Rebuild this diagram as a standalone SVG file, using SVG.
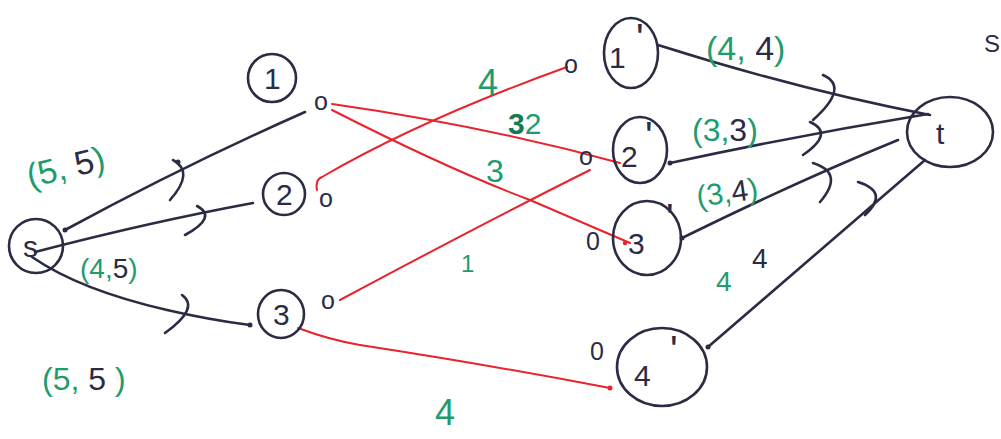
<svg xmlns="http://www.w3.org/2000/svg" width="1001" height="439" viewBox="0 0 1001 439">
<style>
.node{fill:none;stroke:#2b2c44;stroke-width:2.6}
.nl{font-family:"Liberation Sans",sans-serif;fill:#2b2c44;font-size:30px}
.pr{font-family:"Liberation Sans",sans-serif;fill:#2b2c44;font-size:40px}
.z{font-family:"Liberation Sans",sans-serif;fill:#2b2c44;font-size:25px}
.blk{fill:none;stroke:#2b2c44;stroke-width:2.6;stroke-linecap:round}
.red{fill:none;stroke:#e8232d;stroke-width:2;stroke-linecap:round}
.hook{fill:none;stroke:#2b2c44;stroke-width:2.6;stroke-linecap:round}
.g{font-family:"Liberation Sans",sans-serif;fill:#1f9c6c}
.k{fill:#2b2c44}
.dot{fill:#2b2c44}
</style>
<rect width="1001" height="439" fill="#ffffff"/>
<g id="connectors">
  <path class="blk" d="M65 230 Q185 165 305 112"/>
  <path class="blk" d="M35 252 Q150 222 253 203"/>
  <path class="blk" d="M32 257 Q80 290 167 310 Q210 320 250 325"/>
  <path class="hook" d="M173 160 Q195 172 170 200"/>
  <path class="hook" d="M197 206 Q218 217 185 235"/>
  <path class="hook" d="M182 295 Q200 308 165 333"/>
  <circle class="dot" cx="65" cy="230" r="2.5"/>
  <circle class="dot" cx="178" cy="162" r="2.5"/>
  <circle class="dot" cx="250" cy="325" r="2.5"/>
  <path class="red" d="M332 104 Q480 125 620 163"/>
  <path class="red" d="M332 110 Q450 170 530 200 Q600 230 630 243"/>
  <path class="red" d="M317 190 Q315 180 322 177 Q420 120 567 67"/>
  <path class="red" d="M340 300 Q480 225 590 170"/>
  <path class="red" d="M298 328 Q330 340 360 345 Q490 365 610 388"/>
  <circle cx="610" cy="388" r="2.5" fill="#e8232d"/>
  <circle cx="625" cy="243" r="2.2" fill="#e8232d"/>
  <path class="blk" d="M658 45 Q800 90 930 115"/>
  <path class="blk" d="M670 163 Q800 135 928 114"/>
  <path class="blk" d="M682 238 Q800 180 898 140"/>
  <path class="blk" d="M708 347 Q820 250 925 160"/>
  <path class="hook" d="M823 75 Q850 87 813 120"/>
  <path class="hook" d="M810 122 Q835 133 803 155"/>
  <path class="hook" d="M813 163 Q845 173 820 202"/>
  <path class="hook" d="M858 182 Q890 192 865 215"/>
  <circle class="dot" cx="670" cy="163" r="2.5"/>
  <circle class="dot" cx="682" cy="238" r="2.5"/>
  <circle class="dot" cx="708" cy="347" r="2.5"/>
</g>
<g id="node-s">
  <ellipse class="node" cx="36" cy="246" rx="27" ry="27"/>
  <text class="nl" x="23" y="257">s</text>
</g>
<g id="node-1">
  <circle class="node" cx="272" cy="78" r="24"/>
  <text class="nl" x="264" y="89">1</text>
  <text class="z" x="314" y="110">o</text>
</g>
<g id="node-2">
  <circle class="node" cx="284" cy="194" r="21"/>
  <text class="nl" x="276" y="205">2</text>
  <text class="z" x="319" y="207">o</text>
</g>
<g id="node-3">
  <ellipse class="node" cx="281" cy="314" rx="23" ry="24"/>
  <text class="nl" x="273" y="325">3</text>
  <text class="z" x="321" y="309">o</text>
</g>
<g id="node-1p">
  <ellipse class="node" cx="631" cy="53" rx="27" ry="35"/>
  <text class="nl" x="609" y="68">1</text>
  <text class="pr" x="636" y="52">'</text>
  <text class="z" x="564" y="73">o</text>
</g>
<g id="node-2p">
  <ellipse class="node" cx="640" cy="150" rx="27" ry="33"/>
  <text class="nl" x="621" y="167">2</text>
  <text class="pr" x="645" y="150">'</text>
  <text class="z" x="579" y="165">o</text>
</g>
<g id="node-3p">
  <ellipse class="node" cx="647" cy="238" rx="34" ry="37"/>
  <text class="nl" x="628" y="254">3</text>
  <text class="pr" x="666" y="232">'</text>
  <text class="z" x="586" y="250">0</text>
</g>
<g id="node-4p">
  <ellipse class="node" cx="662" cy="367" rx="45" ry="39"/>
  <text class="nl" x="634" y="386" font-size="36">4</text>
  <text class="pr" x="670" y="364">'</text>
  <text class="z" x="590" y="360">0</text>
</g>
<g id="node-t">
  <ellipse class="node" cx="950" cy="132" rx="43" ry="35"/>
  <text class="nl" x="936" y="144" font-size="38">t</text>
</g>
<g id="labels">
  <text class="g" x="30" y="188" font-size="34" transform="rotate(-14 30 188)">(5, <tspan class="k">5</tspan>)</text>
  <text class="g" x="80" y="278" font-size="28">(4,<tspan class="k">5</tspan>)</text>
  <text class="g" x="42" y="390" font-size="32">(5, <tspan class="k">5</tspan> )</text>
  <text class="g" x="706" y="60" font-size="34">(4, <tspan class="k">4</tspan>)</text>
  <text class="g" x="692" y="141" font-size="32">(3,<tspan class="k">3</tspan>)</text>
  <text class="g" x="698" y="207" font-size="30" transform="rotate(-8 698 207)">(3,<tspan class="k">4</tspan>)</text>
  <text class="g" x="716" y="291" font-size="28">4</text>
  <text class="k" x="752" y="268" font-size="28" font-family="Liberation Sans, sans-serif">4</text>
  <text class="g" x="478" y="95" font-size="36">4</text>
  <text class="g" x="508" y="134" font-size="30"><tspan font-weight="bold" fill="#137a52">3</tspan>2</text>
  <text class="g" x="486" y="182" font-size="32">3</text>
  <text class="g" x="461" y="272" font-size="24">1</text>
  <text class="g" x="435" y="425" font-size="36">4</text>
  <text class="k" x="984" y="52" font-size="24" font-family="Liberation Sans, sans-serif">S</text>
</g>
</svg>
